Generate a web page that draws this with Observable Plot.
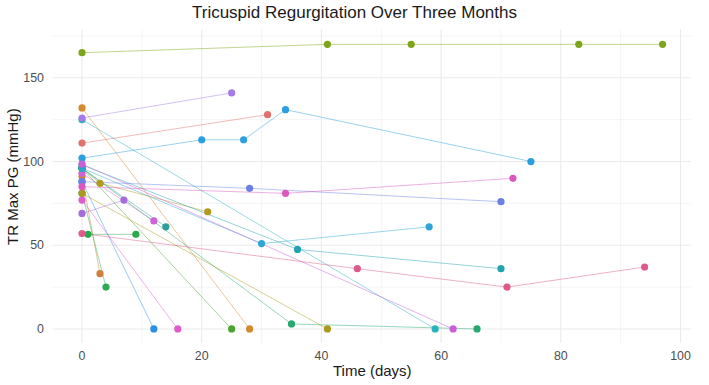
<!DOCTYPE html>
<html>
<head>
<meta charset="utf-8">
<script src="https://cdn.jsdelivr.net/npm/d3@7"></script>
<script src="https://cdn.jsdelivr.net/npm/@observablehq/plot@0.6"></script>
<style>
  html, body { margin: 0; padding: 0; background: #fff; }
  body { width: 709px; height: 385px; overflow: hidden; font-family: "Liberation Sans", Arial, Helvetica, sans-serif; }
  #title { height: 25px; line-height: 25px; font-size: 17px; text-align: center; color: #1a1a1a; }
</style>
</head>
<body>
<div id="title">Tricuspid Regurgitation Over Three Months</div>
<div id="chart"></div>
<script>
// One entry per patient: visit days and the TR max pressure gradient at each visit
const patients = ["P01","P02","P03","P04","P05","P06","P07","P08","P09","P10","P11","P12",
                  "P13","P14","P15","P16","P17","P18","P19","P20","P21","P22","P23","P24"];
const visitDays = [
  [0, 41, 55, 83, 97],
  [0, 28],
  [0, 59],
  [0, 25],
  [0, 31],
  [0, 20, 27, 34, 75],
  [0, 3, 21],
  [0, 3],
  [0, 4],
  [0, 7],
  [0, 12],
  [0, 14],
  [0, 12],
  [0, 16],
  [0, 25],
  [0, 35, 66],
  [0, 30, 58],
  [0, 36, 70],
  [0, 41],
  [0, 62],
  [0, 28, 70],
  [0, 34, 72],
  [1, 9],
  [0, 46, 71, 94]
];
const trMaxPG = [
  [165, 170, 170, 170, 170],
  [132, 0],
  [125, 0],
  [126, 141],
  [111, 128],
  [102, 113, 113, 131, 100],
  [96, 87, 70],
  [91, 33],
  [81, 25],
  [69, 77],
  [93, 64.5],
  [96, 61],
  [88, 0],
  [77, 0],
  [96, 0],
  [96, 3, 0],
  [96, 51, 61],
  [98, 47.5, 36],
  [81, 0],
  [98.5, 0],
  [88, 84, 76],
  [85, 81, 90],
  [56.5, 56.5],
  [57, 36, 25, 37]
];
const patientColors = [
  "#7CA519", "#D4892C", "#2AB3BE", "#A57BEA", "#E2716D", "#2C9FE0",
  "#B39A1E", "#D0803F", "#2EAA55", "#A66BE0", "#CF63D6", "#2E9E98",
  "#2E8FE0", "#DE5CCB", "#4DA232", "#27A870", "#2FA6D6", "#22A3B2",
  "#A99A1E", "#C95FDB", "#6A80E6", "#DA58C0", "#2AA84D", "#DE5A8A"
];
const xTicks = [0, 20, 40, 60, 80, 100];
const xMinor = [10, 30, 50, 70, 90];
const yTicks = [0, 50, 100, 150];
const yMinor = [25, 75, 125, 175];

const rows = patients.flatMap((id, i) =>
  visitDays[i].map((day, j) => ({id, day, pg: trMaxPG[i][j]}))
);

const gridColor = "#EBEBEB";

const chart = Plot.plot({
  width: 709,
  height: 360,
  marginLeft: 52.5,
  marginRight: 17.9,
  marginTop: 4.6,
  marginBottom: 42.3,
  style: {fontFamily: "'Liberation Sans', Arial, Helvetica, sans-serif", fontSize: "12.4px", background: "#fff"},
  x: {domain: [-4.85, 101.85]},
  y: {domain: [-8.5, 178.5]},
  color: {type: "ordinal", domain: patients, range: patientColors},
  marks: [
    Plot.ruleX(xMinor, {stroke: gridColor, strokeWidth: 0.55}),
    Plot.ruleY(yMinor, {stroke: gridColor, strokeWidth: 0.55}),
    Plot.ruleX(xTicks, {stroke: gridColor, strokeWidth: 1.1}),
    Plot.ruleY(yTicks, {stroke: gridColor, strokeWidth: 1.1}),
    Plot.axisX({ticks: xTicks, tickSize: 0, tickPadding: 8, label: null, color: "#4D4D4D", fontSize: 12.4}),
    Plot.axisY({ticks: yTicks, tickSize: 0, tickPadding: 9, label: null, color: "#4D4D4D", fontSize: 12.4}),
    Plot.line(rows, {x: "day", y: "pg", z: "id", stroke: "id", strokeWidth: 0.8, strokeOpacity: 0.6}),
    Plot.dot(rows, {x: "day", y: "pg", fill: "id", r: 3.6}),
    Plot.text(["Time (days)"], {frameAnchor: "bottom", dy: 27.5, textAnchor: "middle", lineAnchor: "middle", fontSize: 15, fill: "#1a1a1a"}),
    Plot.text(["TR Max PG (mmHg)"], {frameAnchor: "left", dx: -39.5, dy: -10, rotate: -90, textAnchor: "middle", lineAnchor: "middle", fontSize: 15, fill: "#1a1a1a"})
  ]
});
document.getElementById("chart").appendChild(chart);
</script>
</body>
</html>
